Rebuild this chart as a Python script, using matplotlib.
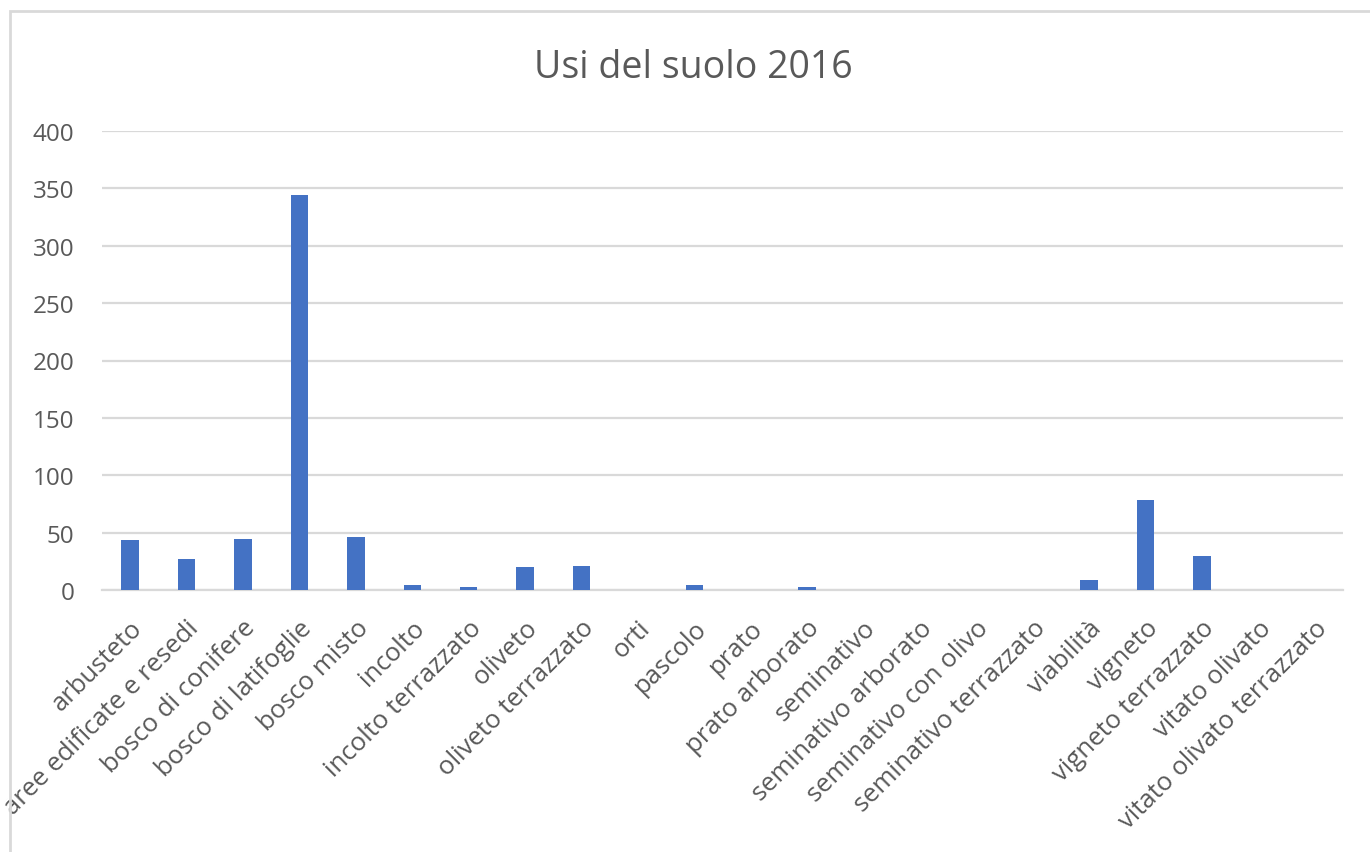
import matplotlib.pyplot as plt
import matplotlib.patches as mpatches
import numpy as np

categorie = ['arbusteto', 'aree edificate e resedi', 'bosco di conifere', 'bosco di latifoglie',
             'bosco misto', 'incolto', 'incolto terrazzato', 'oliveto', 'oliveto terrazzato',
             'orti', 'pascolo', 'prato', 'prato arborato', 'seminativo', 'seminativo arborato',
             'seminativo con olivo', 'seminativo terrazzato', 'viabilità', 'vigneto',
             'vigneto terrazzato', 'vitato olivato', 'vitato olivato terrazzato']
valori = [43.2, 26.8, 44.4, 344, 45.9, 4.7, 2.9, 19.7, 21.2,
          0.2, 4.7, 0.3, 2.9, 0.1, 0.1,
          0.1, 0.1, 8.8, 78.4,
          29.4, 0.1, 0.1]
y_ticks = [0, 50, 100, 150, 200, 250, 300, 350, 400]

grey = '#595959'
plt.rcParams['font.family'] = ['Open Sans', 'DejaVu Sans']

fig = plt.figure(figsize=(13.7, 8.53), dpi=100)
# chart border (cut by the picture edges)
fig.patches.append(mpatches.Rectangle((10 / 1370, -0.05), 1.2, 1 - 12 / 853 + 0.05,
                                      transform=fig.transFigure, fill=False,
                                      edgecolor='#d9d9d9', linewidth=2))

ax = fig.add_axes([102 / 1370, 1 - 591 / 853, 1241 / 1370, (591 - 132) / 853])
x = np.arange(len(categorie))
ax.bar(x, valori, width=0.31, color='#4472C4', zorder=3)
ax.set_xlim(-0.5, len(categorie) - 0.5)
ax.set_ylim(0, 400)
ax.set_yticks(y_ticks)
ax.yaxis.grid(True, color='#d9d9d9', linewidth=1.6, zorder=0)
ax.set_axisbelow(True)
for s in ['top', 'right', 'left']:
    ax.spines[s].set_visible(False)
ax.spines['bottom'].set_color('#d9d9d9')
ax.spines['bottom'].set_linewidth(1.6)
ax.tick_params(axis='y', length=0, colors=grey, labelsize=17.5, pad=20)
ax.set_xticks(x)
ax.set_xticklabels(categorie, rotation=45, ha='right', rotation_mode='anchor')
ax.tick_params(axis='x', length=0, colors=grey, labelsize=18.5, pad=18)

fig.text(0.506, 1 - 68 / 853, 'Usi del suolo 2016', ha='center', va='center',
         fontsize=27, color=grey)

fig.savefig('out.png', dpi=100)
